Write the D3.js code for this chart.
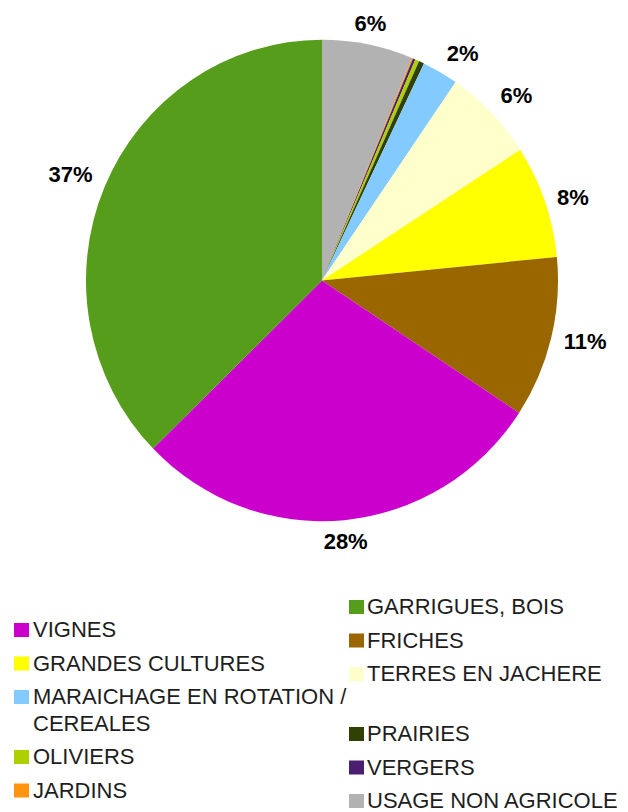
<!DOCTYPE html>
<html>
<head>
<meta charset="utf-8">
<script src="https://cdn.jsdelivr.net/npm/d3@7"></script>
<style>
  body { margin: 0; background: #fff; }
  text { font-family: "Liberation Sans", Arial, sans-serif; }
</style>
</head>
<body>
<div id="chart"></div>
<script>
// slices, clockwise from 12 o'clock
var categories = ["USAGE NON AGRICOLE", "JARDINS", "VERGERS", "OLIVIERS", "PRAIRIES",
  "MARAICHAGE EN ROTATION / CEREALES", "TERRES EN JACHERE", "GRANDES CULTURES",
  "FRICHES", "VIGNES", "GARRIGUES, BOIS"];
var values = [6.22, 0.08, 0.17, 0.28, 0.36, 2.47, 6.28, 7.58, 10.83, 28.42, 37.3];
var colors = ["#b2b2b2", "#ff950e", "#4b1f6f", "#aecf00", "#314004", "#83caff",
  "#ffffcc", "#ffff00", "#996600", "#cc00cc", "#579d1c"];

// legend, row by row (left column, right column)
var legendLeft = ["VIGNES", "GRANDES CULTURES", "MARAICHAGE EN ROTATION / CEREALES", "OLIVIERS", "JARDINS", null];
var legendRight = ["GARRIGUES, BOIS", "FRICHES", "TERRES EN JACHERE", "PRAIRIES", "VERGERS", "USAGE NON AGRICOLE"];

var width = 628, height = 812;
var cx = 322, cy = 280.5, radius = 236, squash = 1.02;

var svg = d3.select("#chart").append("svg")
  .attr("width", width).attr("height", height);

var color = d3.scaleOrdinal(categories, colors);
var data = categories.map(function (c, i) { return { name: c, value: values[i] }; });
var total = d3.sum(values);

var pie = d3.pie().sort(null).value(function (d) { return d.value; });
var arc = d3.arc().innerRadius(0).outerRadius(radius);
var arcs = pie(data);

var g = svg.append("g")
  .attr("transform", "translate(" + cx + "," + cy + ") scale(1," + squash + ")");

g.selectAll("path").data(arcs).enter().append("path")
  .attr("d", arc)
  .attr("fill", function (d) { return color(d.data.name); });

// percent labels: anchor just outside the rim, text aligned away from the pie
svg.selectAll("text.pct").data(arcs.filter(function (d) {
    return Math.round(d.data.value / total * 100) >= 1;
  }))
  .enter().append("text")
  .attr("class", "pct")
  .attr("font-size", "22px")
  .attr("font-weight", "bold")
  .attr("fill", "#000")
  .attr("text-anchor", "middle")
  .attr("dy", "0.36em")
  .text(function (d) { return Math.round(d.data.value / total * 100) + "%"; })
  .each(function (d) {
    var a = (d.startAngle + d.endAngle) / 2;
    var s = Math.sin(a), c = Math.cos(a);
    var hw = this.getComputedTextLength() / 2, hh = 8;
    var ax = cx + 249 * s, ay = cy - 249 * c * squash;
    var ox = s > 0.3 ? hw : (s < -0.3 ? -hw : 0);
    var oy = c > 0.36 ? -hh : (c < -0.36 ? hh : 0);
    d3.select(this).attr("x", ax + ox).attr("y", ay + oy);
  });

// legend
var measure = svg.append("text").attr("font-size", "22px");
function wrap(str, maxW) {
  var words = str.split(" "), lines = [], line = "";
  words.forEach(function (w) {
    var test = line ? line + " " + w : w;
    measure.text(test);
    if (line && measure.node().getComputedTextLength() > maxW) {
      lines.push(line);
      line = w;
    } else {
      line = test;
    }
  });
  lines.push(line);
  return lines;
}

svg.append("clipPath").attr("id", "leftclip")
  .append("rect").attr("x", 0).attr("y", 560).attr("width", 348).attr("height", 260);

var legend = svg.append("g");
var leftCol = legend.append("g").attr("clip-path", "url(#leftclip)");
var rightCol = legend.append("g");

var rowY = 637;
legendLeft.forEach(function (name, i) {
  var nLines = 1;
  if (name) {
    var lines = wrap(name, 318);
    nLines = lines.length;
    var row = leftCol.append("g");
    row.append("rect").attr("x", 14).attr("y", rowY - 14)
      .attr("width", 15).attr("height", 14).attr("fill", color(name));
    lines.forEach(function (l, j) {
      row.append("text").attr("x", 33).attr("y", rowY + j * 26.5)
        .attr("font-size", "22px").attr("fill", "#1e1e1e").text(l);
    });
  }
  var rname = legendRight[i];
  if (rname) {
    var ry = rowY - 23;
    rightCol.append("rect").attr("x", 349).attr("y", ry - 14)
      .attr("width", 15).attr("height", 14).attr("fill", color(rname));
    rightCol.append("text").attr("x", 367).attr("y", ry)
      .attr("font-size", "22px").attr("fill", "#1e1e1e").text(rname);
  }
  rowY += 33.5 + (nLines - 1) * 26.5;
});
measure.remove();
</script>
</body>
</html>
